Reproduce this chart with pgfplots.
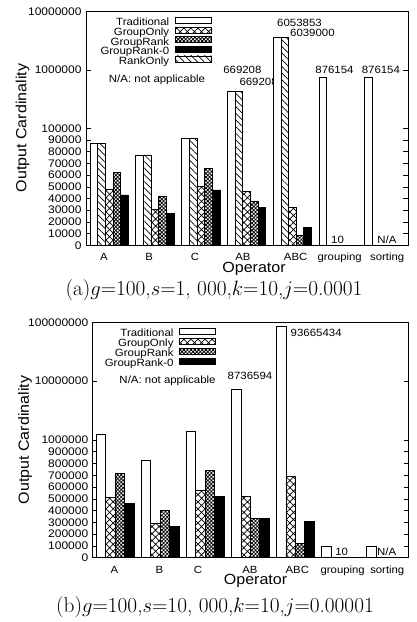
\documentclass[border=0pt]{standalone}
\usepackage{fontspec}
\usepackage{pgfplots}
\pgfplotsset{compat=1.18}
\usepackage{pgfplotstable}
\usetikzlibrary{patterns,patterns.meta}
\newfontfamily\cf{Liberation Sans}[FakeStretch=1.09]
\newcommand\fs[1]{\cf\fontsize{#1}{#1}\selectfont}

\pgfplotsset{/pgfplots/ybar legend/.style={/pgfplots/legend image code/.code={\path (0pt,0pt); \draw[##1] (4.5pt,-0.6pt) rectangle (40.5pt,5.4pt);}}}

\tikzset{
  trad/.style={fill=white,draw=black,line width=0.8pt},
  rankonly/.style={draw=black,line width=0.8pt,pattern={Lines[angle=-45,distance=4.7pt,line width=0.7pt]}},
  grouponly/.style={draw=black,line width=0.8pt,pattern={Hatch[angle=45,distance=5pt,line width=0.7pt]}},
  grouprank/.style={draw=black,line width=0.8pt,pattern={Hatch[angle=45,distance=2.6pt,line width=0.8pt]}},
  grouprankz/.style={fill=black,draw=black,line width=0.8pt},
}

% transformations: linear below L, linear between ticks above
\def\Ttop{2*min(\thisrow{v},100000)/100000+max(min(\thisrow{v},1000000)-100000,0)/900000+max(\thisrow{v}-1000000,0)/9000000}
\def\Tbot{2*min(\thisrow{v},1000000)/1000000+max(min(\thisrow{v},10000000)-1000000,0)/9000000+max(\thisrow{v}-10000000,0)/90000000}

% ---- (a) ----
\pgfplotstableread{
x v
0 87200
1 77200
2 91400
3 669208
4 6053853
5 876154
6 876154
}\aTrad
\pgfplotstableread{
x v
0 87200
1 77200
2 91400
3 669208
4 6039000
5 0
6 0
}\aRank
\pgfplotstableread{
x v
0 47900
1 30800
2 50000
3 46400
4 32500
5 10
6 0
}\aGO
\pgfplotstableread{
x v
0 62400
1 42100
2 65800
3 37900
4 8200
5 10
6 0
}\aGR
\pgfplotstableread{
x v
0 43000
1 27300
2 47300
3 32500
4 15600
5 10
6 0
}\aGRz
% ---- (b) ----
\pgfplotstableread{
x v
0 1920000
1 830000
2 2250000
3 8736594
4 93665434
5 99000
6 99000
}\bTrad
\pgfplotstableread{
x v
0 509000
1 295000
2 575000
3 524000
4 694000
5 10
6 0
}\bGO
\pgfplotstableread{
x v
0 716000
1 405000
2 745000
3 335000
4 122000
5 10
6 0
}\bGR
\pgfplotstableread{
x v
0 460000
1 267000
2 524000
3 335000
4 306000
5 10
6 0
}\bGRz

\pgfplotsset{
  myaxis/.style={
    scale only axis, set layers,
    ymin=0, ymax=4, ybar,
    xtick style={draw=none},
    xticklabels={A,B,C,AB,ABC,grouping,sorting},
    xticklabel style={font=\fs{10.4}, anchor=base, yshift=-15.5pt},
    yticklabel style={font=\fs{11}, inner sep=0pt, xshift=-4.3pt},
    ytick={0,0.2,0.4,0.6,0.8,1,1.2,1.4,1.6,1.8,2,3,4},
    tick align=inside, major tick length=4.5pt,
    ytick style={line width=0.6pt, black},
    axis line style={line width=0.9pt},
    legend plot pos=right, legend cell align=right,
    legend style={draw=none, fill=none, anchor=north east, font=\fs{10.5},
      row sep=-1.2pt, inner sep=0pt,
      nodes={inner xsep=1pt, inner ysep=0.5pt, text height=7.4pt, text depth=1.6pt}},
  }
}

\begin{document}
\begin{tikzpicture}

\begin{axis}[myaxis,
  at={(86pt,-245.3pt)}, anchor=south west,
  width=322pt, height=234pt,
  xmin=-0.5066, xmax=6.524,
  bar width=7.66pt,
  xtick={-0.118,0.873,1.871,2.921,4.07,5.033,6.07},
  yticklabels={0,10000,20000,30000,40000,50000,60000,70000,80000,90000,100000,1000000,10000000},
  legend style={at={(0.3904,0.976)}},
]
\addplot[trad, bar shift=-15.32pt, on layer=axis foreground] table[x=x, y expr=\Ttop] {\aTrad};
\addlegendentry{Traditional}
\addplot[grouponly, bar shift=0pt] table[x=x, y expr=\Ttop] {\aGO};
\addlegendentry{GroupOnly}
\addplot[grouprank, bar shift=7.66pt] table[x=x, y expr=\Ttop] {\aGR};
\addlegendentry{GroupRank}
\addplot[grouprankz, bar shift=15.32pt] table[x=x, y expr=\Ttop] {\aGRz};
\addlegendentry{GroupRank-0}
\addplot[rankonly, bar shift=-7.66pt] table[x=x, y expr=\Ttop] {\aRank};
\addlegendentry{RankOnly}
\node[font=\fs{10.5}] at (axis cs:4.155,3.805) {6053853};
\node[font=\fs{10.5}] at (axis cs:4.437,3.624) {6039000};
\node[font=\fs{10.5}] at (axis cs:2.908,3.002) {669208};
\node[font=\fs{10.5}, anchor=west, inner xsep=0pt] at (axis cs:2.841,2.797) {669208};
\node[font=\fs{10.5}] at (axis cs:4.919,3.002) {876154};
\node[font=\fs{10.5}] at (axis cs:5.932,3.002) {876154};
\node[font=\fs{10.5}] at (axis cs:4.985,0.09) {10};
\node[font=\fs{10.5}] at (axis cs:6.066,0.09) {N/A};
\node[font=\fs{10.5}] at (axis cs:1.044,2.826) {N/A: not applicable};
\end{axis}

\begin{axis}[myaxis,
  at={(92.7pt,-557.7pt)}, anchor=south west,
  width=315.6pt, height=235.4pt,
  xmin=-0.502, xmax=6.511,
  bar width=9.4pt,
  xtick={-0.022,0.978,1.838,2.993,4.044,5.053,6.044},
  yticklabels={0,100000,200000,300000,400000,500000,600000,700000,800000,900000,1000000,10000000,100000000},
  legend style={at={(0.3907,0.978)}, row sep=-0.7pt},
]
\addplot[trad, bar shift=-14.1pt] table[x=x, y expr=\Tbot] {\bTrad};
\addlegendentry{Traditional}
\addplot[grouponly, bar shift=-4.7pt] table[x=x, y expr=\Tbot] {\bGO};
\addlegendentry{GroupOnly}
\addplot[grouprank, bar shift=4.7pt] table[x=x, y expr=\Tbot] {\bGR};
\addlegendentry{GroupRank}
\addplot[grouprankz, bar shift=14.1pt] table[x=x, y expr=\Tbot] {\bGRz};
\addlegendentry{GroupRank-0}
\node[font=\fs{10.5}] at (axis cs:2.993,3.088) {8736594};
\node[font=\fs{10.5}] at (axis cs:4.464,3.813) {93665434};
\node[font=\fs{10.5}] at (axis cs:5.031,0.102) {10};
\node[font=\fs{10.5}] at (axis cs:6.031,0.102) {N/A};
\node[font=\fs{10.5}, anchor=west, inner xsep=0pt] at (axis cs:0.089,3.003) {N/A: not applicable};
\end{axis}

\node[font=\fs{14.7}, rotate=90] at (22.5pt,-128pt) {Output Cardinality};
\node[font=\fs{14.7}, rotate=90] at (25pt,-440pt) {Output Cardinality};
\node[font=\fs{14.7}] at (254pt,-269pt) {Operator};
\node[font=\fs{14.7}] at (255.5pt,-580.5pt) {Operator};
\node[font=\fontsize{21.3}{24}\selectfont] at (214pt,-290pt) {(a)$g$=100,$s$=1, 000,$k$=10,$j$=0.0001};
\node[font=\fontsize{21.3}{24}\selectfont] at (215pt,-607pt) {(b)$g$=100,$s$=10, 000,$k$=10,$j$=0.00001};
\path (0pt,0pt) rectangle (417pt,-622pt);
\end{tikzpicture}
\end{document}
